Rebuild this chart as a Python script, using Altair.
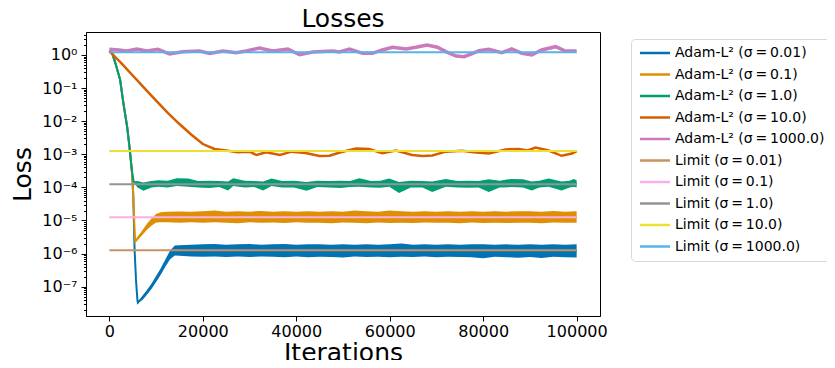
import altair as alt
import pandas as pd
import numpy as np

# ---------------- series labels / colours ----------------
labels = [
    "Adam-L² (σ\u2009=\u20090.01)", "Adam-L² (σ\u2009=\u20090.1)", "Adam-L² (σ\u2009=\u20091.0)",
    "Adam-L² (σ\u2009=\u200910.0)", "Adam-L² (σ\u2009=\u20091000.0)",
    "Limit (σ\u2009=\u20090.01)", "Limit (σ\u2009=\u20090.1)", "Limit (σ\u2009=\u20091.0)",
    "Limit (σ\u2009=\u200910.0)", "Limit (σ\u2009=\u20091000.0)",
]
colors = ["#0173b2", "#de8f05", "#029e73", "#d55e00", "#cc78bc",
          "#ca9161", "#fbafe4", "#949494", "#ece133", "#56b4e9"]

# ---------------- Adam σ=0.01 (noisy band: low / high envelope) ----------------
b_it = [0, 600, 1300, 2300, 3000, 3800, 4300, 4800, 5100, 5400, 5700, 6000, 6100,
        7000, 8000, 9000, 10000, 11000, 12000, 13000, 14000,
        15000, 17500, 20000, 22500, 25000, 27500, 30000, 32500, 35000, 37500,
        40000, 42500, 45000, 47500, 50000, 52500, 55000, 57500, 60000, 62500,
        65000, 67500, 70000, 72500, 75000, 77500, 80000, 82500, 85000, 87500,
        90000, 92500, 95000, 97500, 100000]
b_lo = [1.3, 1.15, 0.56, 0.18, 0.035, 6.8e-3, 1.7e-3, 3.4e-4, 6.3e-5, 1.3e-6, 1.6e-7, 4.0e-8, 3.3e-8,
        3.9e-8, 5.6e-8, 8.5e-8, 1.38e-7, 2.29e-7, 4.07e-7, 6.76e-7, 8.7e-7,
        8.6e-7, 8.2e-7, 8.0e-7, 8.2e-7, 7.9e-7, 8.1e-7, 7.9e-7, 8.2e-7, 8.0e-7, 7.8e-7,
        8.1e-7, 7.7e-7, 8.0e-7, 7.9e-7, 7.6e-7, 8.1e-7, 7.9e-7, 8.0e-7, 7.7e-7, 8.0e-7,
        7.9e-7, 8.1e-7, 7.8e-7, 8.0e-7, 7.9e-7, 7.8e-7, 7.2e-7, 8.0e-7, 7.8e-7, 7.5e-7,
        7.9e-7, 7.4e-7, 8.0e-7, 7.7e-7, 7.6e-7]
b_hi = [1.3, 1.15, 0.56, 0.18, 0.035, 6.8e-3, 1.7e-3, 3.4e-4, 6.3e-5, 1.3e-6, 1.6e-7, 4.0e-8, 3.3e-8,
        5.1e-8, 7.8e-8, 1.23e-7, 2.09e-7, 3.63e-7, 6.76e-7, 1.23e-6, 1.75e-6,
        1.8e-6, 1.85e-6, 1.9e-6, 1.95e-6, 1.85e-6, 1.9e-6, 1.95e-6, 1.85e-6, 1.9e-6, 1.95e-6,
        1.85e-6, 1.9e-6, 1.9e-6, 1.85e-6, 1.9e-6, 1.85e-6, 1.9e-6, 1.85e-6, 1.9e-6, 2.0e-6,
        1.85e-6, 1.9e-6, 1.85e-6, 1.9e-6, 1.85e-6, 1.9e-6, 1.9e-6, 1.85e-6, 1.9e-6, 1.85e-6,
        1.9e-6, 1.85e-6, 1.9e-6, 1.85e-6, 1.9e-6]

# ---------------- Adam σ=0.1 ----------------
o_it = [0, 600, 1300, 2300, 3000, 3800, 4300, 4800, 5000, 5200, 5400, 5540,
        6000, 7000, 8000, 9000, 10000, 11000,
        12500, 15000, 17500, 20000, 22500, 25000, 27500, 30000, 32500, 35000,
        37500, 40000, 42500, 45000, 47500, 50000, 52500, 55000, 57500, 60000,
        62500, 65000, 67500, 70000, 72500, 75000, 77500, 80000, 82500, 85000,
        87500, 90000, 92500, 95000, 97500, 100000]
o_lo = [1.3, 1.15, 0.56, 0.18, 0.035, 6.8e-3, 1.7e-3, 3.4e-4, 1.3e-4, 3.2e-5, 5.0e-6, 2.3e-6,
        2.51e-6, 3.55e-6, 5.13e-6, 6.9e-6, 8.7e-6, 8.9e-6,
        8.8e-6, 8.6e-6, 8.9e-6, 8.5e-6, 8.8e-6, 8.6e-6, 8.3e-6, 8.8e-6, 8.5e-6, 8.7e-6,
        8.4e-6, 8.8e-6, 8.5e-6, 8.6e-6, 8.3e-6, 8.7e-6, 8.5e-6, 8.3e-6, 8.7e-6, 8.4e-6,
        8.6e-6, 8.4e-6, 8.7e-6, 8.5e-6, 8.6e-6, 8.3e-6, 8.7e-6, 8.4e-6, 8.6e-6, 8.4e-6,
        8.6e-6, 8.5e-6, 8.3e-6, 8.7e-6, 8.5e-6, 8.6e-6]
o_hi = [1.3, 1.15, 0.56, 0.18, 0.035, 6.8e-3, 1.7e-3, 3.4e-4, 1.3e-4, 3.2e-5, 5.0e-6, 2.3e-6,
        3.16e-6, 4.9e-6, 7.76e-6, 1.15e-5, 1.58e-5, 1.78e-5,
        1.82e-5, 1.88e-5, 1.85e-5, 1.9e-5, 2.0e-5, 1.85e-5, 1.9e-5, 1.85e-5, 1.95e-5, 1.85e-5,
        1.9e-5, 1.85e-5, 1.9e-5, 1.85e-5, 1.9e-5, 1.85e-5, 2.0e-5, 1.9e-5, 1.85e-5, 2.0e-5,
        1.9e-5, 1.85e-5, 1.9e-5, 1.85e-5, 1.9e-5, 1.85e-5, 1.9e-5, 1.85e-5, 1.9e-5, 1.85e-5,
        1.9e-5, 1.9e-5, 1.85e-5, 1.95e-5, 1.85e-5, 1.9e-5]

# ---------------- Adam σ=1.0 ----------------
g_it = [0, 600, 1300, 2300, 3000, 3800, 4300, 4800, 5200,
        6000, 7300, 9000, 10500, 12500, 14400, 16900, 19000, 21500, 23500, 25400,
        26500, 29000, 31000, 32900, 34700, 37000, 39500, 42200, 44500, 47000,
        49500, 51500, 53500, 56000, 58000, 59900, 62000, 64500, 67000, 69100,
        72000, 74500, 77000, 79000, 81200, 83500, 86000, 88500, 90400, 92000,
        94000, 96800, 98500, 99400, 100000]
g_lo = [1.3, 1.15, 0.56, 0.18, 0.035, 6.8e-3, 1.7e-3, 3.4e-4, 1.5e-4,
        1.0e-4, 7.9e-5, 1.0e-4, 1.05e-4, 1.0e-4, 1.1e-4, 1.05e-4, 1.0e-4, 9.5e-5, 1.02e-4, 8.0e-5,
        1.1e-4, 1.0e-4, 1.03e-4, 8.0e-5, 1.1e-4, 1.0e-4, 1.0e-4, 7.9e-5, 1.02e-4, 1.0e-4,
        9.5e-5, 1.02e-4, 1.05e-4, 1.0e-4, 9.8e-5, 1.05e-4, 6.8e-5, 1.0e-4, 1.0e-4, 7.2e-5,
        1.05e-4, 1.0e-4, 9.8e-5, 1.0e-4, 7.3e-5, 1.0e-4, 1.02e-4, 1.0e-4, 8.0e-5, 1.0e-4,
        1.05e-4, 8.0e-5, 1.0e-4, 1.05e-4, 1.0e-4]
g_hi = [1.3, 1.15, 0.56, 0.18, 0.035, 6.8e-3, 1.7e-3, 3.4e-4, 1.5e-4,
        1.55e-4, 1.4e-4, 1.55e-4, 1.65e-4, 1.6e-4, 1.88e-4, 1.85e-4, 1.55e-4, 1.6e-4, 1.55e-4, 1.5e-4,
        1.9e-4, 1.6e-4, 1.55e-4, 1.5e-4, 1.85e-4, 1.55e-4, 1.6e-4, 1.45e-4, 1.6e-4, 1.55e-4,
        1.6e-4, 1.55e-4, 1.9e-4, 1.55e-4, 1.6e-4, 1.85e-4, 1.45e-4, 1.6e-4, 1.55e-4, 1.5e-4,
        1.8e-4, 1.55e-4, 1.6e-4, 1.55e-4, 1.75e-4, 1.6e-4, 1.8e-4, 1.75e-4, 1.5e-4, 1.6e-4,
        1.85e-4, 1.5e-4, 1.6e-4, 1.8e-4, 1.65e-4]

# ---------------- Adam σ=10.0 ----------------
r_it = [0, 2500, 5000, 7500, 10000, 12500, 15000, 17500, 20000, 22500, 25000, 27500,
        30000, 31500, 33500, 36500, 39000, 42000, 45000, 47100, 49500, 52800, 55600,
        58400, 61300, 64800, 67000, 69100, 72000, 75500, 78000, 81200, 84800, 87600,
        89500, 91200, 94000, 96800, 99000, 100000]
r_val = [1.3, 0.58, 0.24, 0.10, 0.042, 0.0178, 8.2e-3, 3.96e-3, 2.04e-3, 1.45e-3, 1.3e-3, 1.15e-3,
         1.2e-3, 9.5e-4, 1.15e-3, 9.6e-4, 1.2e-3, 1.1e-3, 8.9e-4, 9.0e-4, 1.15e-3, 1.5e-3, 1.45e-3,
         1.08e-3, 1.3e-3, 9.5e-4, 8.9e-4, 9.2e-4, 1.2e-3, 1.28e-3, 1.15e-3, 1.05e-3, 1.4e-3, 1.45e-3,
         1.3e-3, 1.6e-3, 1.3e-3, 9.0e-4, 1.05e-3, 1.25e-3]

# ---------------- Adam σ=1000.0 ----------------
p_it = [0, 2000, 3770, 5900, 8000, 10400, 12900, 15700, 19300, 21500, 24300, 27100,
        29300, 32100, 35000, 38200, 40700, 43500, 47800, 49250, 51400, 54200, 56300,
        58400, 60600, 63500, 65600, 68000, 70200, 72000, 74200, 75900, 77400, 79100,
        81200, 84000, 86100, 88300, 90400, 92500, 95500, 97600, 100000]
p_val = [1.49, 1.42, 1.32, 1.52, 1.32, 1.49, 1.07, 1.26, 1.32, 1.12, 1.32, 1.17,
         1.32, 1.63, 1.32, 1.52, 1.02, 1.23, 1.32, 1.23, 1.52, 1.12, 1.12,
         1.42, 1.71, 1.52, 1.71, 2.0, 1.71, 1.26, 0.93, 0.89, 1.07, 1.35,
         1.49, 1.17, 1.52, 1.12, 1.0, 1.42, 1.78, 1.32, 1.32]

# ---------------- theoretical limits ----------------
limit_it = [0, 100000]
limit_val = [1.25e-6, 1.25e-5, 1.25e-4, 1.25e-3, 1.22]

# ---------------- axis ticks ----------------
x_ticks = [0, 20000, 40000, 60000, 80000, 100000]
y_major_exp = [-7, -6, -5, -4, -3, -2, -1, 0]
y_minor_mult = [2, 3, 4, 5, 6, 7, 8, 9]
y_domain = [1.3e-8, 4.95]
x_domain = [-5000, 105000]

FONT = "DejaVu Sans"

# ---------------- build tables ----------------
band_tables = [
    pd.DataFrame({"series": labels[0], "it": b_it, "lo": b_lo, "hi": b_hi}),
    pd.DataFrame({"series": labels[1], "it": o_it, "lo": o_lo, "hi": o_hi}),
    pd.DataFrame({"series": labels[2], "it": g_it, "lo": g_lo, "hi": g_hi}),
]
for t in band_tables:
    t["val"] = np.sqrt(t["lo"] * t["hi"])
bands = pd.concat(band_tables, ignore_index=True)

red = pd.DataFrame({"series": labels[3], "it": r_it, "val": r_val})
pink = pd.DataFrame({"series": labels[4], "it": p_it, "val": p_val})
limits = pd.concat([
    pd.DataFrame({"series": labels[5 + i], "it": limit_it, "val": [v, v]})
    for i, v in enumerate(limit_val)
], ignore_index=True)

sup = str.maketrans("-0123456789", "⁻⁰¹²³⁴⁵⁶⁷⁸⁹")
y_vals = []
for e in range(-8, 1):
    for m in [1] + y_minor_mult:
        v = m * 10.0 ** e
        if y_domain[0] <= v <= y_domain[1]:
            y_vals.append(v)

lg = "(log(datum.value)/LN10)"
is_pow = f"abs({lg} - round({lg})) < 0.001"
label_expr = "''"
for e in y_major_exp:
    label_expr = f"round({lg}) == {e} ? '{('10' + str(e).translate(sup))}' : ({label_expr})"
label_expr = f"{is_pow} ? ({label_expr}) : ''"

xscale = alt.Scale(domain=x_domain, nice=False, zero=False)
yscale = alt.Scale(type="log", domain=y_domain, nice=False)

xaxis = alt.Axis(values=x_ticks, format="d", labelFontSize=16, tickSize=5, labelPadding=2,
                 grid=False, title="Iterations", titleFontSize=25, titleFontWeight="normal",
                 titleY=44, titleBaseline="alphabetic", labelFlush=False, labelOverlap=False,
                 labelFont=FONT, titleFont=FONT)
yaxis = alt.Axis(values=y_vals, labelExpr=label_expr, labelFontSize=16, labelPadding=4,
                 tickSize={"condition": {"test": is_pow, "value": 5}, "value": 2.5},
                 grid=False, title="Loss", titleFontSize=25, titleFontWeight="normal",
                 titleX=-56, titleY=142, titleAngle=270, titleAlign="center",
                 titleBaseline="alphabetic", labelFlush=False, labelOverlap=False,
                 labelFont=FONT, titleFont=FONT)

color_scale = alt.Scale(domain=labels, range=colors)
legend = alt.Legend(title=None, orient="none", legendX=545, legendY=7, padding=7,
                    cornerRadius=4, strokeColor="#d9d9d9", fillColor="white",
                    labelFontSize=14, labelFont=FONT, labelLimit=400,
                    rowPadding=7.5, symbolType="M-1,0H5", symbolSize=100,
                    symbolStrokeWidth=2.5, labelOffset=23, labelColor="black")

X = alt.X("it:Q", scale=xscale, axis=xaxis)
col = alt.Color("series:N", scale=color_scale, legend=legend)

layers = []
for i, t in enumerate(band_tables):
    layers.append(
        alt.Chart(t).mark_area(opacity=1, color=colors[i]).encode(
            x=X, y=alt.Y("lo:Q", scale=yscale, axis=yaxis), y2="hi:Q")
    )
layers.append(alt.Chart(bands).mark_line(strokeWidth=2).encode(
    x=X, y=alt.Y("val:Q", scale=yscale, axis=yaxis), color=col))
layers.append(alt.Chart(red).mark_line(strokeWidth=2.5).encode(
    x=X, y=alt.Y("val:Q", scale=yscale, axis=yaxis), color=col))
layers.append(alt.Chart(pink).mark_line(strokeWidth=3.5).encode(
    x=X, y=alt.Y("val:Q", scale=yscale, axis=yaxis), color=col))
layers.append(alt.Chart(limits).mark_line(strokeWidth=2).encode(
    x=X, y=alt.Y("val:Q", scale=yscale, axis=yaxis), color=col))

chart = alt.layer(*layers).properties(
    width=514, height=284,
    padding={"left": 78, "top": 24, "right": 227, "bottom": 44},
    autosize=alt.AutoSizeParams(type="none"),
    background="white",
    title=alt.TitleParams(text="Losses", fontSize=25, fontWeight="normal", font=FONT,
                          anchor="middle", frame="group", offset=4, dy=9, color="black"),
).configure_view(stroke="black", strokeWidth=1).configure_axis(
    labelFont=FONT, titleFont=FONT, domainColor="black",
    tickColor="black", labelColor="black", titleColor="black", domainWidth=1, tickWidth=1,
)

chart.save("out.html", embed_options={"renderer": "svg", "actions": False})
